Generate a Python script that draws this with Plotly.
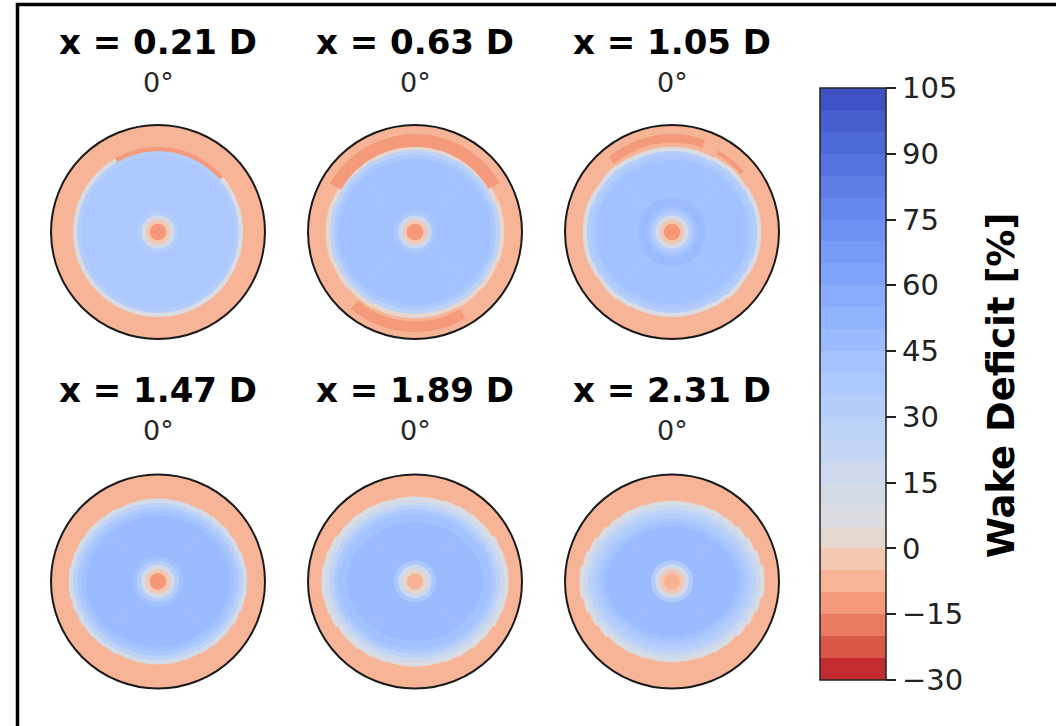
import numpy as np
import plotly.graph_objects as go

# ---------------- data ----------------
PANEL_LABELS = ["x = 0.21 D", "x = 0.63 D", "x = 1.05 D",
                "x = 1.47 D", "x = 1.89 D", "x = 2.31 D"]
ANGLE_LABEL = "0°"

# normalized radial ring edges of the profiles (0 = hub centre, 1 = rotor edge)
R_EDGES = [0.00, 0.04, 0.08, 0.12, 0.16, 0.20, 0.24, 0.28, 0.32, 0.36, 0.40,
           0.44, 0.48, 0.52, 0.56, 0.60, 0.64, 0.68, 0.72, 0.76, 0.80,
           0.84, 0.88, 0.92, 0.96, 1.00]

# radial wake-deficit profiles [%] read along the horizontal, one value per ring
DEF_021 = [-13, -12, -2, 12, 30, 37, 38, 38, 38, 38, 38, 38, 38,
           38, 38, 38, 37, 36, 33, 6, -7, -7, -7, -7, -7]
DEF_063 = [-12, -11, -2, 15, 35, 41, 42, 42, 42, 42, 42, 42, 42,
           42, 42, 42, 41, 41, 38, 25, 3, -7, -7, -7, -7]
DEF_105 = [-12, -11, -3, 12, 32, 44, 46, 46, 44, 42, 42, 42, 42,
           42, 42, 42, 41, 40, 38, 33, 8, -7, -7, -7, -7]
DEF_147 = [-12, -11, -3, 10, 30, 44, 47, 47, 47, 47, 47, 47, 47,
           47, 47, 46, 45, 43, 38, 28, 10, -6, -7, -7, -7]
DEF_189 = [-9, -8, 0, 18, 36, 46, 48, 48, 49, 49, 48, 48, 48,
           48, 47, 46, 44, 41, 36, 28, 17, 6, -6, -7, -7]
DEF_231 = [-7, -6, -2, 12, 30, 45, 49, 49, 48, 48, 48, 48, 48,
           47, 47, 46, 43, 39, 34, 26, 17, 8, -6, -7, -7]
PROFILES = [DEF_021, DEF_063, DEF_105, DEF_147, DEF_189, DEF_231]

# wake narrowing toward top/bottom: (half-angle from vertical [deg], radial offset)
CAP_021 = []
CAP_063 = [(70, 0.01), (50, 0.02), (30, 0.03)]
CAP_105 = [(70, 0.01), (55, 0.02), (40, 0.03), (25, 0.04)]
CAP_147 = [(80, 0.01), (70, 0.02), (60, 0.03), (50, 0.04), (40, 0.05), (25, 0.06)]
CAP_189 = [(80, 0.01), (70, 0.02), (60, 0.04), (50, 0.05), (40, 0.06),
           (30, 0.07), (20, 0.08)]
CAP_231 = [(85, 0.01), (75, 0.03), (65, 0.05), (55, 0.07), (45, 0.09),
           (35, 0.10), (25, 0.11), (15, 0.12)]
CAPS = [CAP_021, CAP_063, CAP_105, CAP_147, CAP_189, CAP_231]
CAP_FROM_R = 0.5

# local stronger-speedup spots: (theta_from, theta_to, r_from, r_to, deficit)
# theta in degrees, 0 at top, clockwise
PATCH_021 = [(-30, 45, 0.76, 0.80, -12)]
PATCH_063 = [(-55, 55, 0.80, 0.92, -12), (150, 215, 0.84, 0.94, -12)]
PATCH_105 = [(-35, 20, 0.84, 0.92, -12), (30, 45, 0.84, 0.88, -12)]
PATCH_147 = []
PATCH_189 = []
PATCH_231 = []
PATCHES = [PATCH_021, PATCH_063, PATCH_105, PATCH_147, PATCH_189, PATCH_231]

CB_MIN, CB_MAX, CB_STEP = -30, 105, 5
CB_TICKS = [-30, -15, 0, 15, 30, 45, 60, 75, 90, 105]
CB_TITLE = "Wake Deficit [%]"

# ---------------- style: coolwarm (Moreland) colormap ----------------
CW = [(0.0, 59, 76, 192), (0.03125, 68, 90, 204), (0.0625, 77, 104, 215),
      (0.09375, 87, 117, 225), (0.125, 98, 130, 234), (0.15625, 108, 142, 241),
      (0.1875, 119, 154, 247), (0.21875, 130, 165, 251), (0.25, 141, 176, 254),
      (0.28125, 152, 185, 255), (0.3125, 163, 194, 255), (0.34375, 174, 201, 253),
      (0.375, 184, 208, 249), (0.40625, 194, 213, 244), (0.4375, 204, 217, 238),
      (0.46875, 213, 219, 230), (0.5, 221, 221, 221), (0.53125, 229, 216, 209),
      (0.5625, 236, 211, 197), (0.59375, 241, 204, 185), (0.625, 245, 196, 173),
      (0.65625, 247, 187, 160), (0.6875, 247, 177, 148), (0.71875, 247, 166, 135),
      (0.75, 244, 154, 123), (0.78125, 241, 141, 111), (0.8125, 236, 127, 99),
      (0.84375, 229, 112, 88), (0.875, 222, 96, 77), (0.90625, 213, 80, 66),
      (0.9375, 203, 62, 56), (0.96875, 192, 40, 47), (1.0, 180, 4, 38)]
cw = np.array(CW)


def coolwarm(t):
    return [float(np.interp(t, cw[:, 0], cw[:, i])) for i in (1, 2, 3)]


VCENTER = 5.0


def norm(v):
    if v < VCENTER:
        return 0.5 * (v - CB_MIN) / (VCENTER - CB_MIN)
    return 0.5 + 0.5 * (v - VCENTER) / (CB_MAX - VCENTER)


levels = np.arange(CB_MIN, CB_MAX + CB_STEP, CB_STEP)
nb = len(levels) - 1
colorscale = []
for k in range(nb):
    mid = 0.5 * (levels[k] + levels[k + 1])
    r, g, b = coolwarm(1 - norm(mid))
    c = f"rgb({r:.0f},{g:.0f},{b:.0f})"
    colorscale.append([k / nb, c])
    colorscale.append([(k + 1) / nb, c])

# ---------------- layout geometry ----------------
W, H = 1056, 726
CENTERS = [(158, 232), (415, 232), (672, 232),
           (158, 581.5), (415, 581.5), (672, 581.5)]
RAD = 107
N_SECTORS = 36
DR = 0.01

fig = go.Figure()

sector_w = 360 / N_SECTORS
theta_c = np.arange(N_SECTORS) * sector_w + sector_w / 2
redges = np.array(R_EDGES)
n_rings = int(round(1 / DR))
ring_in = np.arange(n_rings) * DR
ring_c = ring_in + DR / 2


def in_theta(t, a, b):
    t = t % 360
    a2, b2 = a % 360, b % 360
    if a2 <= b2:
        return a2 <= t <= b2
    return t >= a2 or t <= b2


def vert_dist(t):
    t = t % 360
    return min(t, abs(t - 180), 360 - t)


def lookup(prof, r):
    k = int(np.searchsorted(redges, r, side="right") - 1)
    return prof[min(max(k, 0), len(prof) - 1)]


for i, (prof, caps, patches) in enumerate(zip(PROFILES, CAPS, PATCHES)):
    rr, base, th, vals = [], [], [], []
    for s in range(N_SECTORS):
        d = vert_dist(theta_c[s])
        off = max([o for (ha, o) in caps if d <= ha], default=0.0)
        for j in range(n_rings):
            rcj = ring_c[j]
            reff = rcj + off if rcj > CAP_FROM_R else rcj
            v = lookup(prof, min(reff, 0.999))
            for (a, b, r0, r1, pv) in patches:
                if in_theta(theta_c[s], a, b) and r0 <= rcj <= r1:
                    v = pv
            rr.append(DR)
            base.append(ring_in[j])
            th.append(theta_c[s])
            vals.append(v)
    pid = "polar" if i == 0 else f"polar{i + 1}"
    fig.add_trace(go.Barpolar(
        r=rr, base=base, theta=th, width=[sector_w] * len(th),
        subplot=pid,
        marker=dict(color=vals, colorscale=colorscale, cmin=CB_MIN, cmax=CB_MAX,
                    line=dict(color=vals, colorscale=colorscale, cmin=CB_MIN,
                              cmax=CB_MAX, width=1),
                    showscale=(i == 0),
                    colorbar=dict(
                        x=820 / W, xanchor="left", thickness=66,
                        len=592 / H, lenmode="fraction",
                        y=1 - 384 / H, yanchor="middle", ypad=0, xpad=0,
                        outlinewidth=1.5, outlinecolor="#222",
                        ticks="outside", ticklen=10, tickwidth=2, tickcolor="#222",
                        tickmode="array", tickvals=CB_TICKS,
                        tickfont=dict(family="DejaVu Sans", size=29, color="#222"),
                    )),
        hoverinfo="skip",
    ))
    cx, cy = CENTERS[i]
    fig.layout[pid] = dict(
        domain=dict(x=[(cx - RAD) / W, (cx + RAD) / W],
                    y=[1 - (cy + RAD) / H, 1 - (cy - RAD) / H]),
        bgcolor="white",
        radialaxis=dict(visible=False, range=[0, 1]),
        angularaxis=dict(direction="clockwise", rotation=90, showgrid=False,
                         showticklabels=False, ticks="", showline=True,
                         linecolor="#1a1a1a", linewidth=2),
        bargap=0,
    )

annotations = []
for i, (cx, cy) in enumerate(CENTERS):
    ty = 42 if i < 3 else 390
    ay = 82 if i < 3 else 430
    annotations.append(dict(x=cx / W, y=1 - ty / H, xref="paper", yref="paper",
                            text=f"<b>{PANEL_LABELS[i]}</b>", showarrow=False,
                            xanchor="center", yanchor="middle",
                            font=dict(family="DejaVu Sans", size=34, color="black")))
    annotations.append(dict(x=cx / W, y=1 - ay / H, xref="paper", yref="paper",
                            text=ANGLE_LABEL, showarrow=False,
                            xanchor="center", yanchor="middle",
                            font=dict(family="DejaVu Sans", size=27, color="#262626")))
annotations.append(dict(x=1001 / W, y=1 - 386 / H, xref="paper", yref="paper",
                        text=f"<b>{CB_TITLE}</b>", showarrow=False, textangle=-90,
                        xanchor="center", yanchor="middle",
                        font=dict(family="DejaVu Sans", size=37, color="black")))

fig.update_layout(
    width=W, height=H,
    margin=dict(l=0, r=0, t=0, b=0),
    paper_bgcolor="white", plot_bgcolor="white",
    showlegend=False,
    annotations=annotations,
    shapes=[dict(type="path", xref="paper", yref="paper",
                 path=f"M {17.5 / W} 0 L {17.5 / W} {1 - 4.5 / H} L 1 {1 - 4.5 / H}",
                 line=dict(color="black", width=3.5))],
)

fig.write_html("out.html", config={"displayModeBar": False},
               post_script="document.body.style.margin='0';")
